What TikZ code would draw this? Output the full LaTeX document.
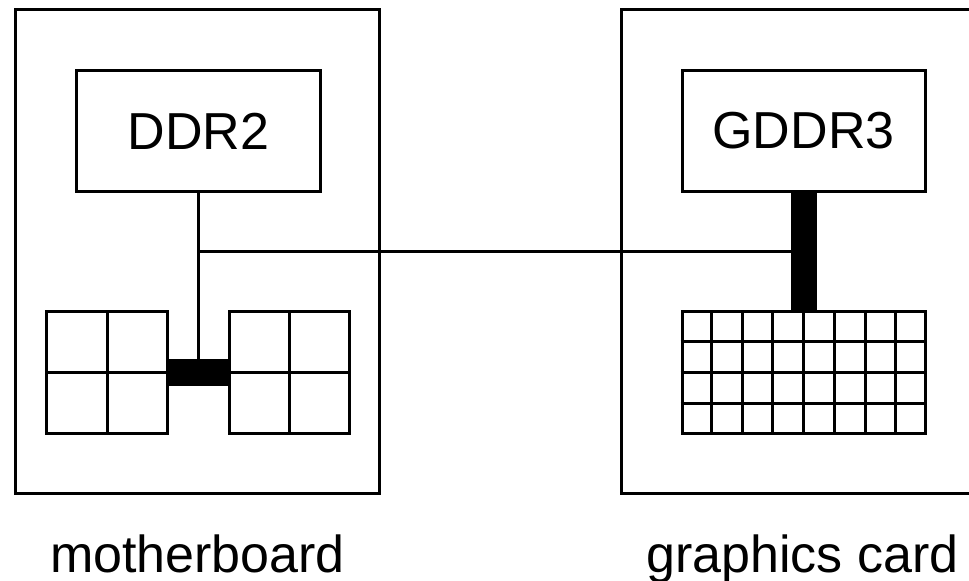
\documentclass[tikz,border=0pt]{standalone}
\usepackage{fontspec}
\setmainfont{Liberation Sans}
\usetikzlibrary{calc}

\begin{document}
\begin{tikzpicture}[x=0.2mm, y=-0.2mm, line width=0.6mm,
  board/.style={draw, minimum width=72.6mm, minimum height=96.6mm},
  chip/.style={draw, minimum width=48.6mm, minimum height=24.2mm},
  ram/.style={draw, minimum width=24mm, minimum height=24.2mm},
  link/.style={line width=0.6mm},
  bus/.style={line width=5.2mm},
  lbl/.style={anchor=base, font=\fontsize{29.6}{35}\selectfont}]
\useasboundingbox (0,0) rectangle (969,581);
\clip (0,0) rectangle (969,581);
\node[board] (mobo) at (197.5,251.5) {};
\node[board] (card) at (802.5,251.5) {};
\node[chip, font=\fontsize{29.6}{35}\selectfont] (ddr) at (198.5,131) {DDR2};
\node[chip, font=\fontsize{29.6}{35}\selectfont] (gddr) at (803.5,131) {GDDR3};
\node[ram] (ramA) at (107,372.5) {};
\node[ram] (ramB) at (289,372.5) {};
\node[draw, minimum width=48.6mm, minimum height=24.2mm] (gpu) at (803.5,372.5) {};
\draw (ramA.north) -- (ramA.south) (ramA.west) -- (ramA.east);
\draw (ramB.north) -- (ramB.south) (ramB.west) -- (ramB.east);
\foreach \f in {1,...,7}
  \draw ($(gpu.north west)!\f/8!(gpu.north east)$) -- ($(gpu.south west)!\f/8!(gpu.south east)$);
\foreach \f in {1,2,3}
  \draw ($(gpu.north west)!\f/4!(gpu.south west)$) -- ($(gpu.north east)!\f/4!(gpu.south east)$);
\coordinate (tap) at ($(ddr.south)!0.5!(ddr.south |- ramA.north)$);
\draw[link] (ddr.south) -- (ddr.south |- ramA.east);
\draw[link] (tap) -- (tap -| gddr.south);
\draw[bus] (ramA.east) -- (ramB.west);
\draw[bus] (gddr.south) -- (gpu.north);
\node[lbl] (moboLbl) at ([yshift=-15.6mm]mobo.south) {motherboard};
\node[lbl] (cardLbl) at ([yshift=-15.6mm]card.south) {graphics card};
\end{tikzpicture}
\end{document}
